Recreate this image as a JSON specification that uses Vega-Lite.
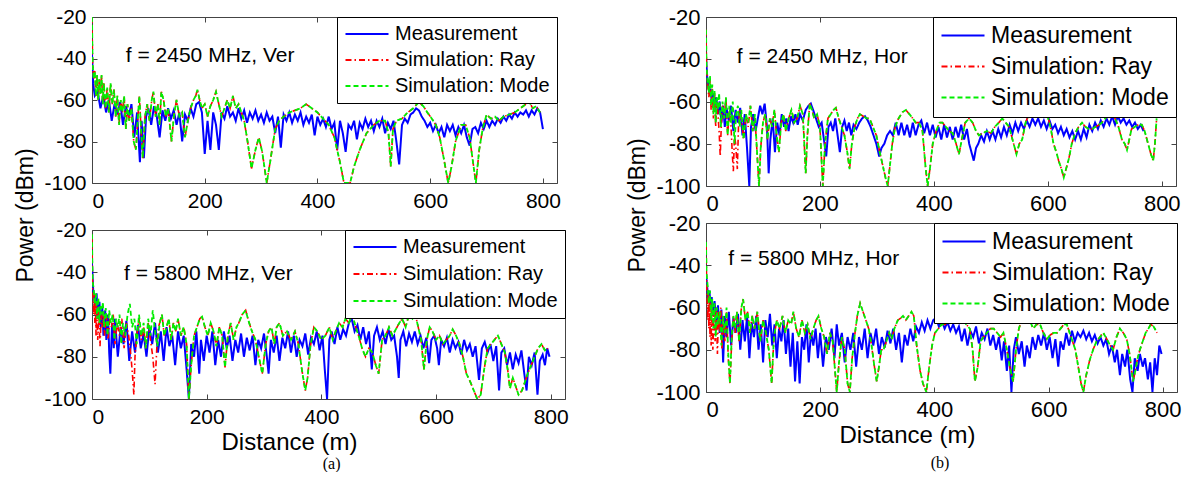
{
"$schema": "https://vega.github.io/schema/vega-lite/v6.json",
"padding": {"left": 14, "top": 5, "right": 0, "bottom": 0},
"config": {
 "font": "Liberation Sans",
 "view": {"stroke": "#444", "strokeWidth": 1},
 "axis": {"grid": false, "domain": false, "ticks": true, "tickSize": -5, "tickColor": "#444", "labelFont": "Liberation Sans", "labelColor": "#000", "titleColor": "#000", "titleFont": "Liberation Sans", "titleFontWeight": "normal", "labelExpr": "replace(datum.label, '−', '-')"},
 "legend": {"title": null, "orient": "top-right", "offset": 0, "strokeColor": "#000", "fillColor": "#fff", "symbolType": "stroke", "symbolSize": 1850, "symbolStrokeWidth": 2, "labelFont": "Liberation Sans", "labelColor": "#000", "labelOffset": 5, "labelLimit": 400, "cornerRadius": 0},
 "title": {"font": "Liberation Serif", "fontSize": 16, "fontWeight": "normal", "color": "#000", "anchor": "middle"}
},
"datasets": {
"a1m": [{"x":0,"y":-38},{"x":2,"y":-52},{"x":5,"y":-58},{"x":10,"y":-56},{"x":15,"y":-64},{"x":20,"y":-58},{"x":25,"y":-66},{"x":30,"y":-60},{"x":35,"y":-70},{"x":40,"y":-62},{"x":45,"y":-67},{"x":50,"y":-61},{"x":55,"y":-72},{"x":60,"y":-63},{"x":65,"y":-68},{"x":70,"y":-62},{"x":75,"y":-78},{"x":80,"y":-66},{"x":85,"y":-90},{"x":88,"y":-70},{"x":92,"y":-88},{"x":96,"y":-68},{"x":100,"y":-64},{"x":105,"y":-72},{"x":110,"y":-63},{"x":115,"y":-68},{"x":120,"y":-78},{"x":125,"y":-65},{"x":130,"y":-70},{"x":135,"y":-64},{"x":140,"y":-69},{"x":145,"y":-65},{"x":150,"y":-72},{"x":155,"y":-66},{"x":160,"y":-80},{"x":165,"y":-67},{"x":170,"y":-70},{"x":175,"y":-64},{"x":180,"y":-68},{"x":185,"y":-62},{"x":190,"y":-61},{"x":195,"y":-66},{"x":200,"y":-86},{"x":205,"y":-70},{"x":210,"y":-84},{"x":215,"y":-66},{"x":220,"y":-72},{"x":225,"y":-84},{"x":230,"y":-66},{"x":235,"y":-69},{"x":240,"y":-63},{"x":245,"y":-68},{"x":250,"y":-66},{"x":255,"y":-70},{"x":260,"y":-64},{"x":265,"y":-69},{"x":270,"y":-65},{"x":275,"y":-71},{"x":280,"y":-66},{"x":285,"y":-69},{"x":290,"y":-65},{"x":295,"y":-70},{"x":300,"y":-67},{"x":305,"y":-71},{"x":310,"y":-66},{"x":315,"y":-70},{"x":320,"y":-68},{"x":325,"y":-76},{"x":330,"y":-68},{"x":335,"y":-83},{"x":340,"y":-67},{"x":345,"y":-70},{"x":350,"y":-66},{"x":355,"y":-71},{"x":360,"y":-67},{"x":365,"y":-70},{"x":370,"y":-66},{"x":375,"y":-72},{"x":380,"y":-68},{"x":385,"y":-71},{"x":390,"y":-67},{"x":395,"y":-77},{"x":400,"y":-68},{"x":405,"y":-72},{"x":410,"y":-69},{"x":415,"y":-73},{"x":420,"y":-68},{"x":425,"y":-74},{"x":430,"y":-71},{"x":435,"y":-84},{"x":440,"y":-70},{"x":445,"y":-76},{"x":450,"y":-85},{"x":455,"y":-72},{"x":460,"y":-74},{"x":465,"y":-70},{"x":470,"y":-79},{"x":475,"y":-71},{"x":480,"y":-74},{"x":485,"y":-69},{"x":490,"y":-73},{"x":495,"y":-70},{"x":500,"y":-75},{"x":505,"y":-70},{"x":510,"y":-73},{"x":515,"y":-69},{"x":520,"y":-76},{"x":525,"y":-71},{"x":530,"y":-74},{"x":535,"y":-70},{"x":540,"y":-80},{"x":545,"y":-91},{"x":550,"y":-72},{"x":555,"y":-69},{"x":560,"y":-71},{"x":565,"y":-67},{"x":570,"y":-66},{"x":575,"y":-64},{"x":580,"y":-65},{"x":585,"y":-68},{"x":590,"y":-70},{"x":595,"y":-73},{"x":600,"y":-71},{"x":605,"y":-75},{"x":610,"y":-72},{"x":615,"y":-76},{"x":620,"y":-73},{"x":625,"y":-78},{"x":630,"y":-72},{"x":635,"y":-75},{"x":640,"y":-72},{"x":645,"y":-77},{"x":650,"y":-73},{"x":655,"y":-76},{"x":660,"y":-72},{"x":665,"y":-78},{"x":670,"y":-82},{"x":675,"y":-74},{"x":680,"y":-73},{"x":685,"y":-76},{"x":690,"y":-71},{"x":695,"y":-74},{"x":700,"y":-70},{"x":705,"y":-73},{"x":710,"y":-70},{"x":715,"y":-72},{"x":720,"y":-69},{"x":725,"y":-71},{"x":730,"y":-68},{"x":735,"y":-70},{"x":740,"y":-67},{"x":745,"y":-69},{"x":750,"y":-66},{"x":755,"y":-68},{"x":760,"y":-66},{"x":765,"y":-67},{"x":770,"y":-65},{"x":775,"y":-68},{"x":780,"y":-65},{"x":785,"y":-67},{"x":790,"y":-64},{"x":795,"y":-66},{"x":800,"y":-74}],
"a1s": [{"x":0,"y":-20},{"x":1,"y":-42},{"x":3,"y":-50},{"x":5,"y":-46},{"x":7,"y":-58},{"x":9,"y":-48},{"x":11,"y":-60},{"x":13,"y":-50},{"x":15,"y":-57},{"x":17,"y":-48},{"x":19,"y":-62},{"x":21,"y":-52},{"x":24,"y":-64},{"x":27,"y":-54},{"x":30,"y":-66},{"x":33,"y":-52},{"x":36,"y":-62},{"x":39,"y":-55},{"x":42,"y":-68},{"x":45,"y":-58},{"x":48,"y":-72},{"x":51,"y":-60},{"x":54,"y":-66},{"x":57,"y":-58},{"x":60,"y":-74},{"x":63,"y":-62},{"x":66,"y":-70},{"x":70,"y":-64},{"x":74,"y":-80},{"x":78,"y":-84},{"x":81,"y":-70},{"x":84,"y":-58},{"x":87,"y":-74},{"x":90,"y":-88},{"x":94,"y":-68},{"x":98,"y":-62},{"x":102,"y":-70},{"x":106,"y":-60},{"x":109,"y":-56},{"x":113,"y":-68},{"x":117,"y":-62},{"x":120,"y":-72},{"x":123,"y":-56},{"x":127,"y":-60},{"x":131,"y":-68},{"x":135,"y":-64},{"x":141,"y":-80},{"x":146,"y":-66},{"x":150,"y":-60},{"x":155,"y":-68},{"x":160,"y":-66},{"x":165,"y":-78},{"x":170,"y":-70},{"x":175,"y":-64},{"x":180,"y":-60},{"x":184,"y":-58},{"x":187,"y":-55},{"x":191,"y":-60},{"x":195,"y":-64},{"x":200,"y":-62},{"x":205,"y":-68},{"x":210,"y":-63},{"x":215,"y":-60},{"x":220,"y":-56},{"x":225,"y":-62},{"x":230,"y":-68},{"x":235,"y":-64},{"x":240,"y":-60},{"x":245,"y":-64},{"x":250,"y":-58},{"x":255,"y":-64},{"x":260,"y":-62},{"x":265,"y":-66},{"x":270,"y":-70},{"x":276,"y":-80},{"x":283,"y":-93},{"x":290,"y":-84},{"x":296,"y":-78},{"x":302,"y":-85},{"x":310,"y":-100},{"x":316,"y":-90},{"x":325,"y":-74},{"x":332,"y":-70},{"x":340,"y":-68},{"x":350,"y":-66},{"x":360,"y":-65},{"x":370,"y":-64},{"x":380,"y":-62},{"x":390,"y":-64},{"x":400,"y":-66},{"x":410,"y":-69},{"x":420,"y":-72},{"x":430,"y":-78},{"x":440,"y":-90},{"x":447,"y":-100},{"x":458,"y":-100},{"x":465,"y":-92},{"x":475,"y":-84},{"x":487,"y":-76},{"x":500,"y":-72},{"x":510,"y":-70},{"x":520,"y":-70},{"x":526,"y":-76},{"x":530,"y":-92},{"x":534,"y":-74},{"x":540,"y":-70},{"x":550,"y":-69},{"x":560,"y":-66},{"x":570,"y":-64},{"x":580,"y":-61},{"x":588,"y":-63},{"x":595,"y":-66},{"x":603,"y":-69},{"x":610,"y":-72},{"x":617,"y":-78},{"x":624,"y":-88},{"x":632,"y":-100},{"x":638,"y":-92},{"x":645,"y":-80},{"x":655,"y":-72},{"x":663,"y":-72},{"x":670,"y":-78},{"x":676,"y":-90},{"x":681,"y":-100},{"x":687,"y":-84},{"x":693,"y":-74},{"x":700,"y":-67},{"x":708,"y":-69},{"x":715,"y":-68},{"x":722,"y":-70},{"x":730,"y":-68},{"x":740,"y":-67},{"x":750,"y":-66},{"x":760,"y":-64},{"x":770,"y":-62},{"x":776,"y":-61},{"x":782,"y":-64},{"x":788,"y":-63},{"x":795,"y":-66}],
"a2m": [{"x":0,"y":-36},{"x":2,"y":-48},{"x":5,"y":-55},{"x":8,"y":-50},{"x":10,"y":-62},{"x":13,"y":-54},{"x":15,"y":-66},{"x":18,"y":-57},{"x":20,"y":-70},{"x":23,"y":-58},{"x":25,"y":-72},{"x":28,"y":-60},{"x":30,"y":-78},{"x":32,"y":-88},{"x":35,"y":-64},{"x":38,"y":-76},{"x":40,"y":-62},{"x":45,"y":-80},{"x":50,"y":-66},{"x":55,"y":-74},{"x":60,"y":-63},{"x":65,"y":-82},{"x":70,"y":-68},{"x":75,"y":-78},{"x":80,"y":-65},{"x":85,"y":-76},{"x":90,"y":-69},{"x":95,"y":-80},{"x":100,"y":-66},{"x":105,"y":-74},{"x":110,"y":-64},{"x":115,"y":-78},{"x":120,"y":-68},{"x":125,"y":-82},{"x":130,"y":-66},{"x":135,"y":-75},{"x":140,"y":-70},{"x":145,"y":-84},{"x":150,"y":-68},{"x":155,"y":-76},{"x":160,"y":-70},{"x":165,"y":-86},{"x":169,"y":-100},{"x":173,"y":-74},{"x":178,"y":-80},{"x":182,"y":-68},{"x":187,"y":-88},{"x":190,"y":-72},{"x":195,"y":-82},{"x":200,"y":-70},{"x":205,"y":-78},{"x":210,"y":-68},{"x":215,"y":-84},{"x":220,"y":-72},{"x":225,"y":-80},{"x":230,"y":-68},{"x":235,"y":-76},{"x":240,"y":-70},{"x":245,"y":-82},{"x":250,"y":-72},{"x":255,"y":-78},{"x":260,"y":-69},{"x":265,"y":-80},{"x":270,"y":-71},{"x":275,"y":-77},{"x":280,"y":-70},{"x":285,"y":-84},{"x":290,"y":-72},{"x":295,"y":-76},{"x":300,"y":-69},{"x":305,"y":-80},{"x":308,"y":-88},{"x":312,"y":-72},{"x":317,"y":-78},{"x":322,"y":-70},{"x":327,"y":-82},{"x":332,"y":-71},{"x":337,"y":-76},{"x":342,"y":-68},{"x":347,"y":-78},{"x":352,"y":-70},{"x":357,"y":-80},{"x":362,"y":-72},{"x":367,"y":-75},{"x":372,"y":-69},{"x":377,"y":-79},{"x":382,"y":-71},{"x":387,"y":-74},{"x":392,"y":-68},{"x":397,"y":-77},{"x":402,"y":-70},{"x":406,"y":-86},{"x":410,"y":-100},{"x":414,"y":-72},{"x":418,"y":-68},{"x":423,"y":-74},{"x":428,"y":-66},{"x":433,"y":-72},{"x":438,"y":-67},{"x":443,"y":-70},{"x":448,"y":-64},{"x":453,"y":-62},{"x":458,"y":-68},{"x":463,"y":-65},{"x":468,"y":-72},{"x":473,"y":-66},{"x":478,"y":-74},{"x":483,"y":-68},{"x":488,"y":-86},{"x":492,"y":-70},{"x":497,"y":-66},{"x":502,"y":-72},{"x":507,"y":-68},{"x":512,"y":-74},{"x":517,"y":-67},{"x":522,"y":-72},{"x":527,"y":-70},{"x":532,"y":-80},{"x":535,"y":-90},{"x":538,"y":-72},{"x":543,"y":-68},{"x":548,"y":-75},{"x":553,"y":-69},{"x":558,"y":-73},{"x":563,"y":-68},{"x":568,"y":-74},{"x":573,"y":-70},{"x":578,"y":-76},{"x":583,"y":-71},{"x":588,"y":-83},{"x":592,"y":-72},{"x":597,"y":-70},{"x":602,"y":-76},{"x":605,"y":-84},{"x":609,"y":-72},{"x":614,"y":-75},{"x":619,"y":-71},{"x":624,"y":-78},{"x":629,"y":-72},{"x":634,"y":-76},{"x":639,"y":-73},{"x":644,"y":-79},{"x":649,"y":-72},{"x":654,"y":-77},{"x":659,"y":-74},{"x":664,"y":-80},{"x":669,"y":-75},{"x":675,"y":-91},{"x":680,"y":-76},{"x":685,"y":-73},{"x":690,"y":-78},{"x":695,"y":-74},{"x":700,"y":-82},{"x":705,"y":-75},{"x":710,"y":-96},{"x":714,"y":-78},{"x":719,"y":-76},{"x":724,"y":-84},{"x":729,"y":-78},{"x":734,"y":-86},{"x":739,"y":-79},{"x":744,"y":-83},{"x":749,"y":-77},{"x":754,"y":-88},{"x":758,"y":-96},{"x":762,"y":-80},{"x":767,"y":-84},{"x":772,"y":-78},{"x":777,"y":-98},{"x":781,"y":-82},{"x":786,"y":-79},{"x":790,"y":-84},{"x":794,"y":-76},{"x":798,"y":-80}],
"a2s": [{"x":0,"y":-22},{"x":1,"y":-44},{"x":3,"y":-48},{"x":5,"y":-55},{"x":7,"y":-50},{"x":9,"y":-62},{"x":11,"y":-52},{"x":13,"y":-64},{"x":15,"y":-56},{"x":17,"y":-60},{"x":19,"y":-54},{"x":21,"y":-66},{"x":24,"y":-57},{"x":27,"y":-70},{"x":30,"y":-58},{"x":33,"y":-64},{"x":36,"y":-60},{"x":39,"y":-72},{"x":42,"y":-62},{"x":45,"y":-66},{"x":48,"y":-60},{"x":51,"y":-74},{"x":54,"y":-64},{"x":58,"y":-70},{"x":62,"y":-60},{"x":66,"y":-55},{"x":70,"y":-66},{"x":74,"y":-62},{"x":78,"y":-74},{"x":82,"y":-60},{"x":86,"y":-70},{"x":90,"y":-64},{"x":94,"y":-76},{"x":98,"y":-62},{"x":102,"y":-70},{"x":106,"y":-58},{"x":110,"y":-68},{"x":114,"y":-75},{"x":118,"y":-64},{"x":122,"y":-60},{"x":126,"y":-70},{"x":130,"y":-66},{"x":134,"y":-62},{"x":138,"y":-72},{"x":142,"y":-64},{"x":146,"y":-68},{"x":150,"y":-62},{"x":155,"y":-70},{"x":160,"y":-66},{"x":165,"y":-74},{"x":169,"y":-100},{"x":173,"y":-84},{"x":178,"y":-70},{"x":183,"y":-66},{"x":188,"y":-62},{"x":192,"y":-61},{"x":197,"y":-66},{"x":202,"y":-70},{"x":207,"y":-64},{"x":212,"y":-68},{"x":217,"y":-75},{"x":222,"y":-66},{"x":227,"y":-70},{"x":232,"y":-85},{"x":237,"y":-70},{"x":242,"y":-64},{"x":247,"y":-72},{"x":252,"y":-66},{"x":256,"y":-64},{"x":262,"y":-60},{"x":268,"y":-58},{"x":273,"y":-63},{"x":279,"y":-68},{"x":285,"y":-72},{"x":291,"y":-80},{"x":297,"y":-88},{"x":303,"y":-74},{"x":308,"y":-68},{"x":313,"y":-66},{"x":318,"y":-74},{"x":322,"y":-66},{"x":327,"y":-64},{"x":333,"y":-70},{"x":340,"y":-68},{"x":347,"y":-72},{"x":354,"y":-68},{"x":360,"y":-74},{"x":366,"y":-86},{"x":372,"y":-96},{"x":376,"y":-90},{"x":381,"y":-75},{"x":387,"y":-66},{"x":393,"y":-68},{"x":400,"y":-72},{"x":407,"y":-70},{"x":414,"y":-66},{"x":420,"y":-72},{"x":425,"y":-68},{"x":431,"y":-64},{"x":437,"y":-66},{"x":442,"y":-62},{"x":448,"y":-64},{"x":454,"y":-60},{"x":460,"y":-66},{"x":465,"y":-70},{"x":471,"y":-76},{"x":477,"y":-80},{"x":483,"y":-76},{"x":489,"y":-78},{"x":495,"y":-84},{"x":500,"y":-88},{"x":506,"y":-72},{"x":512,"y":-70},{"x":518,"y":-66},{"x":524,"y":-70},{"x":530,"y":-67},{"x":536,"y":-64},{"x":541,"y":-62},{"x":547,"y":-66},{"x":553,"y":-60},{"x":559,"y":-62},{"x":564,"y":-60},{"x":569,"y":-66},{"x":574,"y":-72},{"x":579,"y":-86},{"x":584,"y":-72},{"x":589,"y":-66},{"x":594,"y":-68},{"x":600,"y":-72},{"x":606,"y":-70},{"x":612,"y":-74},{"x":618,"y":-72},{"x":624,"y":-70},{"x":629,"y":-67},{"x":635,"y":-70},{"x":641,"y":-74},{"x":647,"y":-80},{"x":653,"y":-88},{"x":660,"y":-92},{"x":666,"y":-96},{"x":672,"y":-100},{"x":678,"y":-98},{"x":684,"y":-86},{"x":690,"y":-76},{"x":696,"y":-74},{"x":702,"y":-72},{"x":708,"y":-70},{"x":714,"y":-74},{"x":720,"y":-78},{"x":725,"y":-86},{"x":729,"y":-95},{"x":734,"y":-90},{"x":739,"y":-94},{"x":744,"y":-98},{"x":750,"y":-96},{"x":755,"y":-92},{"x":760,"y":-88},{"x":766,"y":-84},{"x":772,"y":-80},{"x":778,"y":-76},{"x":784,"y":-74},{"x":790,"y":-77},{"x":795,"y":-76}],
"a2r": [{"x":0,"y":-24},{"x":1,"y":-46},{"x":2,"y":-52},{"x":3,"y":-60},{"x":4,"y":-50},{"x":5,"y":-64},{"x":6,"y":-54},{"x":7,"y":-70},{"x":8,"y":-56},{"x":10,"y":-72},{"x":12,"y":-58},{"x":14,"y":-75},{"x":16,"y":-60},{"x":18,"y":-66},{"x":20,"y":-58},{"x":22,"y":-70},{"x":25,"y":-60},{"x":28,"y":-72},{"x":31,"y":-62},{"x":34,"y":-66},{"x":37,"y":-60},{"x":40,"y":-74},{"x":44,"y":-64},{"x":48,"y":-70},{"x":52,"y":-62},{"x":56,"y":-76},{"x":60,"y":-64},{"x":64,"y":-70},{"x":68,"y":-80},{"x":71,"y":-90},{"x":73,"y":-98},{"x":75,"y":-80},{"x":78,"y":-70},{"x":82,"y":-62},{"x":86,"y":-72},{"x":90,"y":-66},{"x":94,"y":-76},{"x":98,"y":-64},{"x":102,"y":-72},{"x":106,"y":-80},{"x":110,"y":-93},{"x":113,"y":-76},{"x":116,"y":-66},{"x":118,"y":-64}],
"b1m": [{"x":0,"y":-39},{"x":2,"y":-48},{"x":4,"y":-52},{"x":6,"y":-56},{"x":8,"y":-54},{"x":10,"y":-60},{"x":12,"y":-56},{"x":15,"y":-62},{"x":18,"y":-58},{"x":21,"y":-66},{"x":24,"y":-60},{"x":27,"y":-70},{"x":30,"y":-62},{"x":33,"y":-72},{"x":36,"y":-63},{"x":40,"y":-69},{"x":44,"y":-62},{"x":48,"y":-74},{"x":52,"y":-64},{"x":56,"y":-70},{"x":60,"y":-63},{"x":64,"y":-76},{"x":68,"y":-66},{"x":72,"y":-82},{"x":76,"y":-100},{"x":79,"y":-72},{"x":83,"y":-66},{"x":87,"y":-74},{"x":91,"y":-68},{"x":95,"y":-62},{"x":99,"y":-66},{"x":103,"y":-61},{"x":107,"y":-72},{"x":110,"y":-94},{"x":113,"y":-78},{"x":117,"y":-68},{"x":121,"y":-84},{"x":125,"y":-70},{"x":129,"y":-76},{"x":133,"y":-66},{"x":137,"y":-72},{"x":141,"y":-68},{"x":145,"y":-74},{"x":149,"y":-67},{"x":153,"y":-70},{"x":157,"y":-66},{"x":161,"y":-71},{"x":165,"y":-66},{"x":170,"y":-69},{"x":175,"y":-64},{"x":180,"y":-62},{"x":184,"y":-61},{"x":188,"y":-64},{"x":193,"y":-68},{"x":198,"y":-72},{"x":203,"y":-70},{"x":207,"y":-78},{"x":211,"y":-86},{"x":215,"y":-72},{"x":219,"y":-70},{"x":223,"y":-74},{"x":227,"y":-68},{"x":231,"y":-76},{"x":235,"y":-84},{"x":239,"y":-72},{"x":243,"y":-69},{"x":247,"y":-74},{"x":251,"y":-70},{"x":255,"y":-76},{"x":259,"y":-71},{"x":264,"y":-73},{"x":269,"y":-70},{"x":274,"y":-68},{"x":279,"y":-67},{"x":284,"y":-69},{"x":289,"y":-72},{"x":294,"y":-76},{"x":299,"y":-80},{"x":304,"y":-86},{"x":308,"y":-82},{"x":313,"y":-80},{"x":318,"y":-76},{"x":323,"y":-74},{"x":328,"y":-76},{"x":333,"y":-70},{"x":338,"y":-76},{"x":343,"y":-70},{"x":348,"y":-76},{"x":353,"y":-71},{"x":358,"y":-77},{"x":363,"y":-70},{"x":368,"y":-76},{"x":373,"y":-71},{"x":378,"y":-69},{"x":383,"y":-75},{"x":388,"y":-70},{"x":393,"y":-76},{"x":398,"y":-71},{"x":403,"y":-77},{"x":408,"y":-72},{"x":413,"y":-78},{"x":418,"y":-71},{"x":423,"y":-77},{"x":428,"y":-72},{"x":433,"y":-78},{"x":438,"y":-72},{"x":443,"y":-77},{"x":448,"y":-71},{"x":453,"y":-78},{"x":458,"y":-73},{"x":462,"y":-80},{"x":466,"y":-84},{"x":470,"y":-88},{"x":474,"y":-82},{"x":478,"y":-80},{"x":483,"y":-76},{"x":488,"y":-79},{"x":493,"y":-74},{"x":498,"y":-78},{"x":503,"y":-74},{"x":508,"y":-78},{"x":513,"y":-73},{"x":518,"y":-77},{"x":523,"y":-72},{"x":528,"y":-76},{"x":533,"y":-71},{"x":538,"y":-75},{"x":543,"y":-70},{"x":548,"y":-74},{"x":553,"y":-70},{"x":558,"y":-73},{"x":563,"y":-69},{"x":568,"y":-72},{"x":573,"y":-68},{"x":578,"y":-71},{"x":583,"y":-68},{"x":588,"y":-72},{"x":593,"y":-69},{"x":598,"y":-73},{"x":603,"y":-69},{"x":608,"y":-73},{"x":613,"y":-71},{"x":618,"y":-75},{"x":623,"y":-72},{"x":628,"y":-76},{"x":633,"y":-73},{"x":638,"y":-77},{"x":643,"y":-74},{"x":648,"y":-78},{"x":653,"y":-74},{"x":658,"y":-78},{"x":663,"y":-73},{"x":668,"y":-77},{"x":673,"y":-71},{"x":678,"y":-74},{"x":683,"y":-70},{"x":688,"y":-73},{"x":693,"y":-69},{"x":698,"y":-72},{"x":703,"y":-68},{"x":708,"y":-71},{"x":713,"y":-67},{"x":718,"y":-71},{"x":723,"y":-67},{"x":728,"y":-70},{"x":733,"y":-68},{"x":738,"y":-71},{"x":743,"y":-69},{"x":748,"y":-72},{"x":753,"y":-70},{"x":758,"y":-73},{"x":763,"y":-71},{"x":768,"y":-74}],
"b1s": [{"x":0,"y":-26},{"x":1,"y":-44},{"x":3,"y":-50},{"x":5,"y":-56},{"x":7,"y":-48},{"x":9,"y":-62},{"x":11,"y":-52},{"x":13,"y":-66},{"x":15,"y":-55},{"x":17,"y":-70},{"x":19,"y":-58},{"x":21,"y":-64},{"x":23,"y":-56},{"x":26,"y":-72},{"x":29,"y":-60},{"x":32,"y":-68},{"x":35,"y":-58},{"x":38,"y":-76},{"x":41,"y":-62},{"x":44,"y":-70},{"x":47,"y":-60},{"x":50,"y":-80},{"x":53,"y":-66},{"x":56,"y":-62},{"x":59,"y":-72},{"x":62,"y":-64},{"x":66,"y":-78},{"x":70,"y":-66},{"x":74,"y":-70},{"x":78,"y":-62},{"x":82,"y":-74},{"x":86,"y":-66},{"x":90,"y":-86},{"x":93,"y":-100},{"x":96,"y":-82},{"x":100,"y":-70},{"x":104,"y":-66},{"x":108,"y":-78},{"x":112,"y":-68},{"x":116,"y":-72},{"x":120,"y":-64},{"x":124,"y":-76},{"x":128,"y":-84},{"x":132,"y":-70},{"x":136,"y":-66},{"x":140,"y":-74},{"x":145,"y":-68},{"x":150,"y":-64},{"x":155,"y":-70},{"x":160,"y":-68},{"x":165,"y":-62},{"x":170,"y":-66},{"x":175,"y":-94},{"x":178,"y":-76},{"x":182,"y":-61},{"x":186,"y":-64},{"x":190,"y":-68},{"x":195,"y":-66},{"x":200,"y":-72},{"x":205,"y":-100},{"x":209,"y":-80},{"x":214,"y":-68},{"x":219,"y":-66},{"x":224,"y":-64},{"x":228,"y":-63},{"x":233,"y":-68},{"x":238,"y":-72},{"x":243,"y":-76},{"x":248,"y":-84},{"x":252,"y":-92},{"x":256,"y":-80},{"x":261,"y":-72},{"x":266,"y":-68},{"x":270,"y":-66},{"x":276,"y":-67},{"x":282,"y":-68},{"x":287,"y":-68},{"x":293,"y":-72},{"x":299,"y":-76},{"x":305,"y":-84},{"x":310,"y":-90},{"x":315,"y":-96},{"x":319,"y":-100},{"x":323,"y":-90},{"x":327,"y":-80},{"x":332,"y":-72},{"x":338,"y":-68},{"x":345,"y":-65},{"x":351,"y":-64},{"x":357,"y":-66},{"x":363,"y":-68},{"x":368,"y":-70},{"x":374,"y":-70},{"x":380,"y":-74},{"x":385,"y":-90},{"x":389,"y":-100},{"x":393,"y":-92},{"x":398,"y":-80},{"x":404,"y":-74},{"x":410,"y":-70},{"x":415,"y":-70},{"x":421,"y":-72},{"x":427,"y":-74},{"x":433,"y":-75},{"x":439,"y":-80},{"x":444,"y":-85},{"x":449,"y":-78},{"x":455,"y":-70},{"x":462,"y":-68},{"x":468,"y":-70},{"x":474,"y":-74},{"x":479,"y":-76},{"x":486,"y":-75},{"x":493,"y":-74},{"x":500,"y":-75},{"x":507,"y":-72},{"x":514,"y":-70},{"x":520,"y":-68},{"x":526,"y":-70},{"x":532,"y":-72},{"x":538,"y":-78},{"x":545,"y":-85},{"x":550,"y":-80},{"x":555,"y":-78},{"x":561,"y":-70},{"x":567,"y":-66},{"x":573,"y":-64},{"x":578,"y":-64},{"x":584,"y":-62},{"x":590,"y":-62},{"x":596,"y":-65},{"x":602,"y":-69},{"x":606,"y":-74},{"x":610,"y":-80},{"x":615,"y":-84},{"x":619,"y":-88},{"x":624,"y":-92},{"x":628,"y":-96},{"x":632,"y":-92},{"x":637,"y":-87},{"x":642,"y":-80},{"x":648,"y":-75},{"x":654,"y":-72},{"x":660,"y":-70},{"x":666,"y":-72},{"x":672,"y":-73},{"x":678,"y":-73},{"x":684,"y":-72},{"x":690,"y":-71},{"x":695,"y":-70},{"x":701,"y":-68},{"x":707,"y":-66},{"x":712,"y":-66},{"x":718,"y":-68},{"x":724,"y":-72},{"x":730,"y":-78},{"x":735,"y":-80},{"x":739,"y":-83},{"x":743,"y":-78},{"x":747,"y":-73},{"x":753,"y":-72},{"x":759,"y":-71},{"x":765,"y":-71},{"x":770,"y":-74},{"x":776,"y":-80},{"x":781,"y":-85},{"x":785,"y":-88},{"x":788,"y":-80},{"x":791,"y":-68}],
"b1r": [{"x":0,"y":-26},{"x":1,"y":-44},{"x":3,"y":-52},{"x":5,"y":-58},{"x":7,"y":-50},{"x":9,"y":-64},{"x":11,"y":-54},{"x":13,"y":-68},{"x":15,"y":-56},{"x":17,"y":-72},{"x":19,"y":-60},{"x":21,"y":-66},{"x":23,"y":-74},{"x":25,"y":-86},{"x":27,"y":-70},{"x":29,"y":-62},{"x":32,"y":-68},{"x":35,"y":-58},{"x":38,"y":-76},{"x":41,"y":-64},{"x":44,"y":-72},{"x":46,"y":-84},{"x":48,"y":-93},{"x":50,"y":-76},{"x":52,"y":-80},{"x":55,"y":-92},{"x":57,"y":-72},{"x":59,"y":-64},{"x":62,"y":-68},{"x":66,"y":-78},{"x":70,"y":-66},{"x":74,"y":-72},{"x":78,"y":-62},{"x":82,"y":-74},{"x":86,"y":-68},{"x":90,"y":-86},{"x":93,"y":-100},{"x":96,"y":-82},{"x":100,"y":-70},{"x":104,"y":-66},{"x":108,"y":-78},{"x":112,"y":-68}],
"b2m": [{"x":0,"y":-44},{"x":2,"y":-50},{"x":4,"y":-56},{"x":6,"y":-52},{"x":8,"y":-60},{"x":10,"y":-55},{"x":12,"y":-64},{"x":15,"y":-57},{"x":18,"y":-68},{"x":21,"y":-59},{"x":24,"y":-72},{"x":27,"y":-61},{"x":30,"y":-86},{"x":33,"y":-64},{"x":36,"y":-74},{"x":40,"y":-62},{"x":44,"y":-78},{"x":48,"y":-65},{"x":52,"y":-72},{"x":56,"y":-63},{"x":60,"y":-80},{"x":64,"y":-66},{"x":68,"y":-76},{"x":72,"y":-64},{"x":76,"y":-84},{"x":80,"y":-67},{"x":84,"y":-74},{"x":88,"y":-64},{"x":92,"y":-80},{"x":96,"y":-68},{"x":100,"y":-86},{"x":104,"y":-66},{"x":108,"y":-74},{"x":112,"y":-63},{"x":116,"y":-78},{"x":120,"y":-68},{"x":124,"y":-84},{"x":128,"y":-70},{"x":132,"y":-76},{"x":136,"y":-66},{"x":140,"y":-82},{"x":144,"y":-70},{"x":148,"y":-88},{"x":152,"y":-72},{"x":156,"y":-95},{"x":160,"y":-76},{"x":164,"y":-96},{"x":168,"y":-74},{"x":172,"y":-80},{"x":176,"y":-68},{"x":180,"y":-86},{"x":184,"y":-72},{"x":188,"y":-78},{"x":192,"y":-70},{"x":196,"y":-84},{"x":200,"y":-72},{"x":205,"y":-88},{"x":210,"y":-74},{"x":215,"y":-80},{"x":220,"y":-70},{"x":225,"y":-84},{"x":229,"y":-68},{"x":233,"y":-78},{"x":238,"y":-72},{"x":243,"y":-86},{"x":248,"y":-74},{"x":253,"y":-80},{"x":258,"y":-72},{"x":263,"y":-88},{"x":268,"y":-74},{"x":273,"y":-80},{"x":278,"y":-70},{"x":283,"y":-84},{"x":288,"y":-72},{"x":293,"y":-78},{"x":298,"y":-70},{"x":303,"y":-82},{"x":308,"y":-74},{"x":313,"y":-79},{"x":318,"y":-71},{"x":323,"y":-77},{"x":328,"y":-70},{"x":333,"y":-80},{"x":338,"y":-72},{"x":343,"y":-86},{"x":348,"y":-73},{"x":353,"y":-78},{"x":358,"y":-70},{"x":363,"y":-76},{"x":368,"y":-69},{"x":373,"y":-72},{"x":378,"y":-67},{"x":383,"y":-71},{"x":388,"y":-66},{"x":393,"y":-70},{"x":398,"y":-66},{"x":403,"y":-65},{"x":408,"y":-69},{"x":413,"y":-66},{"x":418,"y":-70},{"x":423,"y":-67},{"x":428,"y":-71},{"x":433,"y":-68},{"x":438,"y":-72},{"x":443,"y":-69},{"x":448,"y":-76},{"x":453,"y":-70},{"x":458,"y":-78},{"x":463,"y":-71},{"x":468,"y":-74},{"x":473,"y":-69},{"x":478,"y":-77},{"x":483,"y":-72},{"x":488,"y":-75},{"x":493,"y":-70},{"x":498,"y":-78},{"x":503,"y":-73},{"x":508,"y":-80},{"x":513,"y":-74},{"x":518,"y":-85},{"x":522,"y":-76},{"x":527,"y":-90},{"x":531,"y":-78},{"x":535,"y":-100},{"x":539,"y":-80},{"x":543,"y":-74},{"x":548,"y":-82},{"x":553,"y":-76},{"x":558,"y":-88},{"x":562,"y":-78},{"x":567,"y":-84},{"x":572,"y":-74},{"x":577,"y":-80},{"x":582,"y":-73},{"x":587,"y":-78},{"x":592,"y":-72},{"x":597,"y":-80},{"x":602,"y":-74},{"x":607,"y":-84},{"x":612,"y":-75},{"x":617,"y":-88},{"x":621,"y":-76},{"x":626,"y":-80},{"x":631,"y":-72},{"x":636,"y":-78},{"x":641,"y":-71},{"x":646,"y":-76},{"x":651,"y":-72},{"x":656,"y":-74},{"x":661,"y":-71},{"x":666,"y":-75},{"x":671,"y":-72},{"x":676,"y":-76},{"x":681,"y":-73},{"x":686,"y":-77},{"x":691,"y":-74},{"x":696,"y":-78},{"x":701,"y":-75},{"x":706,"y":-82},{"x":711,"y":-78},{"x":716,"y":-86},{"x":720,"y":-80},{"x":725,"y":-92},{"x":729,"y":-82},{"x":734,"y":-88},{"x":738,"y":-80},{"x":743,"y":-94},{"x":747,"y":-100},{"x":751,"y":-84},{"x":756,"y":-90},{"x":760,"y":-82},{"x":765,"y":-88},{"x":769,"y":-84},{"x":774,"y":-94},{"x":778,"y":-86},{"x":782,"y":-100},{"x":786,"y":-84},{"x":790,"y":-92},{"x":794,"y":-78},{"x":798,"y":-82}],
"b2s": [{"x":0,"y":-29},{"x":1,"y":-44},{"x":3,"y":-50},{"x":5,"y":-58},{"x":7,"y":-52},{"x":9,"y":-66},{"x":11,"y":-56},{"x":13,"y":-70},{"x":15,"y":-58},{"x":17,"y":-74},{"x":19,"y":-60},{"x":21,"y":-68},{"x":24,"y":-62},{"x":27,"y":-78},{"x":30,"y":-64},{"x":33,"y":-72},{"x":36,"y":-60},{"x":39,"y":-82},{"x":42,"y":-96},{"x":45,"y":-74},{"x":48,"y":-64},{"x":51,"y":-70},{"x":54,"y":-62},{"x":58,"y":-76},{"x":62,"y":-60},{"x":65,"y":-56},{"x":69,"y":-66},{"x":73,"y":-62},{"x":77,"y":-72},{"x":81,"y":-64},{"x":85,"y":-70},{"x":90,"y":-62},{"x":95,"y":-76},{"x":100,"y":-66},{"x":105,"y":-72},{"x":110,"y":-80},{"x":115,"y":-96},{"x":119,"y":-74},{"x":124,"y":-66},{"x":129,"y":-70},{"x":134,"y":-64},{"x":139,"y":-72},{"x":144,"y":-66},{"x":149,"y":-68},{"x":153,"y":-62},{"x":158,"y":-70},{"x":163,"y":-74},{"x":168,"y":-66},{"x":173,"y":-72},{"x":178,"y":-68},{"x":183,"y":-75},{"x":188,"y":-70},{"x":193,"y":-66},{"x":197,"y":-64},{"x":202,"y":-70},{"x":207,"y":-74},{"x":212,"y":-82},{"x":217,"y":-72},{"x":222,"y":-76},{"x":226,"y":-90},{"x":229,"y":-100},{"x":233,"y":-86},{"x":238,"y":-74},{"x":243,"y":-80},{"x":248,"y":-96},{"x":252,"y":-100},{"x":256,"y":-84},{"x":261,"y":-72},{"x":265,"y":-64},{"x":270,"y":-58},{"x":275,"y":-62},{"x":280,"y":-66},{"x":285,"y":-70},{"x":290,"y":-78},{"x":295,"y":-88},{"x":299,"y":-95},{"x":303,"y":-88},{"x":307,"y":-80},{"x":311,"y":-80},{"x":316,"y":-76},{"x":321,"y":-72},{"x":325,"y":-75},{"x":330,"y":-70},{"x":336,"y":-66},{"x":341,"y":-65},{"x":345,"y":-64},{"x":350,"y":-66},{"x":355,"y":-64},{"x":360,"y":-62},{"x":364,"y":-64},{"x":369,"y":-78},{"x":375,"y":-90},{"x":380,"y":-96},{"x":386,"y":-100},{"x":391,"y":-88},{"x":396,"y":-78},{"x":401,"y":-72},{"x":407,"y":-70},{"x":413,"y":-68},{"x":419,"y":-68},{"x":425,"y":-66},{"x":431,"y":-65},{"x":437,"y":-63},{"x":443,"y":-65},{"x":450,"y":-66},{"x":456,"y":-68},{"x":462,"y":-70},{"x":467,"y":-80},{"x":471,"y":-95},{"x":476,"y":-88},{"x":481,"y":-76},{"x":486,"y":-74},{"x":492,"y":-72},{"x":498,"y":-70},{"x":504,"y":-70},{"x":510,"y":-72},{"x":516,"y":-74},{"x":521,"y":-72},{"x":527,"y":-80},{"x":532,"y":-88},{"x":538,"y":-95},{"x":543,"y":-80},{"x":548,"y":-70},{"x":553,"y":-66},{"x":558,"y":-63},{"x":562,"y":-62},{"x":567,"y":-66},{"x":573,"y":-70},{"x":579,"y":-68},{"x":585,"y":-68},{"x":591,"y":-72},{"x":597,"y":-75},{"x":603,"y":-73},{"x":609,"y":-72},{"x":615,"y":-72},{"x":621,"y":-70},{"x":627,"y":-68},{"x":632,"y":-68},{"x":637,"y":-72},{"x":642,"y":-76},{"x":647,"y":-80},{"x":652,"y":-88},{"x":657,"y":-96},{"x":661,"y":-100},{"x":666,"y":-92},{"x":672,"y":-85},{"x":678,"y":-80},{"x":684,"y":-76},{"x":690,"y":-74},{"x":696,"y":-72},{"x":702,"y":-75},{"x":708,"y":-78},{"x":713,"y":-80},{"x":719,"y":-74},{"x":725,"y":-70},{"x":731,"y":-72},{"x":737,"y":-75},{"x":742,"y":-82},{"x":748,"y":-95},{"x":752,"y":-90},{"x":756,"y":-84},{"x":760,"y":-80},{"x":765,"y":-76},{"x":770,"y":-72},{"x":775,"y":-70},{"x":779,"y":-68},{"x":784,"y":-69},{"x":790,"y":-72}],
"b2r": [{"x":0,"y":-30},{"x":1,"y":-46},{"x":2,"y":-56},{"x":3,"y":-66},{"x":4,"y":-52},{"x":5,"y":-70},{"x":6,"y":-56},{"x":7,"y":-74},{"x":8,"y":-58},{"x":9,"y":-78},{"x":10,"y":-60},{"x":12,"y":-80},{"x":14,"y":-62},{"x":16,"y":-76},{"x":18,"y":-60},{"x":20,"y":-82},{"x":22,"y":-62},{"x":24,"y":-72},{"x":26,"y":-60},{"x":28,"y":-80},{"x":30,"y":-64},{"x":33,"y":-76},{"x":36,"y":-62},{"x":39,"y":-84},{"x":42,"y":-96},{"x":45,"y":-76},{"x":48,"y":-64},{"x":51,"y":-72},{"x":54,"y":-62},{"x":58,"y":-76}]
},
"spacing": 57,
"resolve": {"scale": {"color": "independent", "strokeDash": "independent", "x": "independent", "y": "independent"}, "legend": {"color": "independent", "strokeDash": "independent"}},
"hconcat": [
 {
  "bounds": "flush",
  "spacing": 47,
  "title": {"text": "(a)", "orient": "bottom", "offset": 1, "dx": 40},
  "resolve": {"scale": {"color": "independent", "strokeDash": "independent", "x": "independent", "y": "independent"}, "legend": {"color": "independent", "strokeDash": "independent"}},
  "vconcat": [
   {
    "width": 465, "height": 166,
    "resolve": {"axis": {"x": "independent", "y": "independent"}},
    "layer": [
     {"data": {"name": "a1m"}, "mark": {"type": "line", "strokeWidth": 2, "clip": true},
      "encoding": {
       "x": {"field": "x", "type": "quantitative", "scale": {"domain": [0, 825], "nice": false}, "axis": {"values": [0, 200, 400, 600, 800], "title": null, "labelFontSize": 21, "labelPadding": 12}},
       "y": {"field": "y", "type": "quantitative", "scale": {"domain": [-100, -20], "nice": false}, "axis": {"values": [-100, -80, -60, -40, -20], "title": "Power (dBm)", "titleFontSize": 23, "titleY": 198, "titlePadding": 6, "labelFontSize": 21, "labelPadding": 11}},
       "color": {"datum": "Measurement", "type": "nominal", "scale": {"domain": ["Measurement", "Simulation: Ray", "Simulation: Mode"], "range": ["#0000ff", "#ff0000", "#00ee00"]}, "legend": {"labelFontSize": 20, "padding": 7, "rowPadding": 6, "clipHeight": 20}},
       "strokeDash": {"datum": "Measurement", "type": "nominal", "scale": {"domain": ["Measurement", "Simulation: Ray", "Simulation: Mode"], "range": [[1, 0], [6, 3, 1.5, 3], [5, 3]]}, "legend": {"labelFontSize": 20, "padding": 7, "rowPadding": 6, "clipHeight": 20}}
      }},
     {"data": {"name": "a1s"}, "mark": {"type": "line", "strokeWidth": 1.6, "clip": true},
      "encoding": {"x": {"field": "x", "type": "quantitative", "axis": {"orient": "top", "labels": false, "title": null, "values": [0, 200, 400, 600, 800]}}, "y": {"field": "y", "type": "quantitative", "axis": {"orient": "right", "labels": false, "title": null, "values": [-100, -80, -60, -40, -20]}}, "color": {"datum": "Simulation: Ray", "type": "nominal"}, "strokeDash": {"datum": "Simulation: Ray", "type": "nominal"}}},
     {"data": {"name": "a1s"}, "mark": {"type": "line", "strokeWidth": 1.8, "clip": true},
      "encoding": {"x": {"field": "x", "type": "quantitative", "axis": null}, "y": {"field": "y", "type": "quantitative", "axis": null}, "color": {"datum": "Simulation: Mode", "type": "nominal"}, "strokeDash": {"datum": "Simulation: Mode", "type": "nominal"}}},
     {"data": {"values": [{"t": "f = 2450 MHz, Ver"}]}, "mark": {"type": "text", "align": "left", "baseline": "middle", "fontSize": 21, "color": "#000"},
      "encoding": {"x": {"datum": 60, "type": "quantitative", "axis": null}, "y": {"datum": -38.6, "type": "quantitative", "axis": null}, "text": {"field": "t"}}}
    ]
   },
   {
    "width": 473, "height": 169,
    "resolve": {"axis": {"x": "independent", "y": "independent"}},
    "layer": [
     {"data": {"name": "a2m"}, "mark": {"type": "line", "strokeWidth": 2, "clip": true},
      "encoding": {
       "x": {"field": "x", "type": "quantitative", "scale": {"domain": [0, 825], "nice": false}, "axis": {"values": [0, 200, 400, 600, 800], "title": "Distance (m)", "titleFontSize": 24, "titleX": 197, "titlePadding": 3, "labelFontSize": 21, "labelPadding": 12}},
       "y": {"field": "y", "type": "quantitative", "scale": {"domain": [-100, -20], "nice": false}, "axis": {"values": [-100, -80, -60, -40, -20], "title": null, "labelFontSize": 21, "labelPadding": 11}},
       "color": {"datum": "Measurement", "type": "nominal", "scale": {"domain": ["Measurement", "Simulation: Ray", "Simulation: Mode"], "range": ["#0000ff", "#ff0000", "#00ee00"]}, "legend": {"labelFontSize": 20, "padding": 7, "rowPadding": 7, "clipHeight": 20}},
       "strokeDash": {"datum": "Measurement", "type": "nominal", "scale": {"domain": ["Measurement", "Simulation: Ray", "Simulation: Mode"], "range": [[1, 0], [6, 3, 1.5, 3], [5, 3]]}, "legend": {"labelFontSize": 20, "padding": 7, "rowPadding": 7, "clipHeight": 20}}
      }},
     {"data": {"name": "a2r"}, "mark": {"type": "line", "strokeWidth": 1.6, "clip": true},
      "encoding": {"x": {"field": "x", "type": "quantitative", "axis": null}, "y": {"field": "y", "type": "quantitative", "axis": null}, "color": {"datum": "Simulation: Ray", "type": "nominal"}, "strokeDash": {"datum": "Simulation: Ray", "type": "nominal"}}},
     {"data": {"name": "a2s"}, "transform": [{"filter": "datum.x >= 118"}], "mark": {"type": "line", "strokeWidth": 1.6, "clip": true},
      "encoding": {"x": {"field": "x", "type": "quantitative", "axis": {"orient": "top", "labels": false, "title": null, "values": [0, 200, 400, 600, 800]}}, "y": {"field": "y", "type": "quantitative", "axis": {"orient": "right", "labels": false, "title": null, "values": [-100, -80, -60, -40, -20]}}, "color": {"datum": "Simulation: Ray", "type": "nominal"}, "strokeDash": {"datum": "Simulation: Ray", "type": "nominal"}}},
     {"data": {"name": "a2s"}, "mark": {"type": "line", "strokeWidth": 1.8, "clip": true},
      "encoding": {"x": {"field": "x", "type": "quantitative", "axis": null}, "y": {"field": "y", "type": "quantitative", "axis": null}, "color": {"datum": "Simulation: Mode", "type": "nominal"}, "strokeDash": {"datum": "Simulation: Mode", "type": "nominal"}}},
     {"data": {"values": [{"t": "f = 5800 MHz, Ver"}]}, "mark": {"type": "text", "align": "left", "baseline": "middle", "fontSize": 21, "color": "#000"},
      "encoding": {"x": {"datum": 56, "type": "quantitative", "axis": null}, "y": {"datum": -40.8, "type": "quantitative", "axis": null}, "text": {"field": "t"}}}
    ]
   }
  ]
 },
 {
  "bounds": "flush",
  "spacing": 37,
  "title": {"text": "(b)", "orient": "bottom", "offset": 7, "dx": 36},
  "resolve": {"scale": {"color": "independent", "strokeDash": "independent", "x": "independent", "y": "independent"}, "legend": {"color": "independent", "strokeDash": "independent"}},
  "vconcat": [
   {
    "width": 470, "height": 169,
    "resolve": {"axis": {"x": "independent", "y": "independent"}},
    "layer": [
     {"data": {"name": "b1m"}, "mark": {"type": "line", "strokeWidth": 2, "clip": true},
      "encoding": {
       "x": {"field": "x", "type": "quantitative", "scale": {"domain": [0, 825], "nice": false}, "axis": {"values": [0, 200, 400, 600, 800], "title": null, "labelFontSize": 22, "labelPadding": 12}},
       "y": {"field": "y", "type": "quantitative", "scale": {"domain": [-100, -20], "nice": false}, "axis": {"values": [-100, -80, -60, -40, -20], "title": "Power (dBm)", "titleFontSize": 23, "titleY": 188, "titlePadding": 6, "labelFontSize": 22, "labelPadding": 11}},
       "color": {"datum": "Measurement", "type": "nominal", "scale": {"domain": ["Measurement", "Simulation: Ray", "Simulation: Mode"], "range": ["#0000ff", "#ff0000", "#00ee00"]}, "legend": {"labelFontSize": 23, "padding": 7, "rowPadding": 7, "clipHeight": 23}},
       "strokeDash": {"datum": "Measurement", "type": "nominal", "scale": {"domain": ["Measurement", "Simulation: Ray", "Simulation: Mode"], "range": [[1, 0], [6, 3, 1.5, 3], [5, 3]]}, "legend": {"labelFontSize": 23, "padding": 7, "rowPadding": 7, "clipHeight": 23}}
      }},
     {"data": {"name": "b1r"}, "mark": {"type": "line", "strokeWidth": 1.6, "clip": true},
      "encoding": {"x": {"field": "x", "type": "quantitative", "axis": null}, "y": {"field": "y", "type": "quantitative", "axis": null}, "color": {"datum": "Simulation: Ray", "type": "nominal"}, "strokeDash": {"datum": "Simulation: Ray", "type": "nominal"}}},
     {"data": {"name": "b1s"}, "transform": [{"filter": "datum.x >= 112"}], "mark": {"type": "line", "strokeWidth": 1.6, "clip": true},
      "encoding": {"x": {"field": "x", "type": "quantitative", "axis": {"orient": "top", "labels": false, "title": null, "values": [0, 200, 400, 600, 800]}}, "y": {"field": "y", "type": "quantitative", "axis": {"orient": "right", "labels": false, "title": null, "values": [-100, -80, -60, -40, -20]}}, "color": {"datum": "Simulation: Ray", "type": "nominal"}, "strokeDash": {"datum": "Simulation: Ray", "type": "nominal"}}},
     {"data": {"name": "b1s"}, "mark": {"type": "line", "strokeWidth": 1.8, "clip": true},
      "encoding": {"x": {"field": "x", "type": "quantitative", "axis": null}, "y": {"field": "y", "type": "quantitative", "axis": null}, "color": {"datum": "Simulation: Mode", "type": "nominal"}, "strokeDash": {"datum": "Simulation: Mode", "type": "nominal"}}},
     {"data": {"values": [{"t": "f = 2450 MHz, Hor"}]}, "mark": {"type": "text", "align": "left", "baseline": "middle", "fontSize": 21, "color": "#000"},
      "encoding": {"x": {"datum": 54, "type": "quantitative", "axis": null}, "y": {"datum": -39.1, "type": "quantitative", "axis": null}, "text": {"field": "t"}}}
    ]
   },
   {
    "width": 471, "height": 169,
    "resolve": {"axis": {"x": "independent", "y": "independent"}},
    "layer": [
     {"data": {"name": "b2m"}, "mark": {"type": "line", "strokeWidth": 2, "clip": true},
      "encoding": {
       "x": {"field": "x", "type": "quantitative", "scale": {"domain": [0, 825], "nice": false}, "axis": {"values": [0, 200, 400, 600, 800], "title": "Distance (m)", "titleFontSize": 24, "titleX": 201, "titlePadding": 3, "labelFontSize": 22, "labelPadding": 12}},
       "y": {"field": "y", "type": "quantitative", "scale": {"domain": [-100, -20], "nice": false}, "axis": {"values": [-100, -80, -60, -40, -20], "title": null, "labelFontSize": 22, "labelPadding": 11}},
       "color": {"datum": "Measurement", "type": "nominal", "scale": {"domain": ["Measurement", "Simulation: Ray", "Simulation: Mode"], "range": ["#0000ff", "#ff0000", "#00ee00"]}, "legend": {"labelFontSize": 23, "padding": 7, "rowPadding": 7, "clipHeight": 23}},
       "strokeDash": {"datum": "Measurement", "type": "nominal", "scale": {"domain": ["Measurement", "Simulation: Ray", "Simulation: Mode"], "range": [[1, 0], [6, 3, 1.5, 3], [5, 3]]}, "legend": {"labelFontSize": 23, "padding": 7, "rowPadding": 7, "clipHeight": 23}}
      }},
     {"data": {"name": "b2r"}, "mark": {"type": "line", "strokeWidth": 1.6, "clip": true},
      "encoding": {"x": {"field": "x", "type": "quantitative", "axis": null}, "y": {"field": "y", "type": "quantitative", "axis": null}, "color": {"datum": "Simulation: Ray", "type": "nominal"}, "strokeDash": {"datum": "Simulation: Ray", "type": "nominal"}}},
     {"data": {"name": "b2s"}, "transform": [{"filter": "datum.x >= 58"}], "mark": {"type": "line", "strokeWidth": 1.6, "clip": true},
      "encoding": {"x": {"field": "x", "type": "quantitative", "axis": {"orient": "top", "labels": false, "title": null, "values": [0, 200, 400, 600, 800]}}, "y": {"field": "y", "type": "quantitative", "axis": {"orient": "right", "labels": false, "title": null, "values": [-100, -80, -60, -40, -20]}}, "color": {"datum": "Simulation: Ray", "type": "nominal"}, "strokeDash": {"datum": "Simulation: Ray", "type": "nominal"}}},
     {"data": {"name": "b2s"}, "mark": {"type": "line", "strokeWidth": 1.8, "clip": true},
      "encoding": {"x": {"field": "x", "type": "quantitative", "axis": null}, "y": {"field": "y", "type": "quantitative", "axis": null}, "color": {"datum": "Simulation: Mode", "type": "nominal"}, "strokeDash": {"datum": "Simulation: Mode", "type": "nominal"}}},
     {"data": {"values": [{"t": "f = 5800 MHz, Hor"}]}, "mark": {"type": "text", "align": "left", "baseline": "middle", "fontSize": 21, "color": "#000"},
      "encoding": {"x": {"datum": 39, "type": "quantitative", "axis": null}, "y": {"datum": -37.2, "type": "quantitative", "axis": null}, "text": {"field": "t"}}}
    ]
   }
  ]
 }
]
}
